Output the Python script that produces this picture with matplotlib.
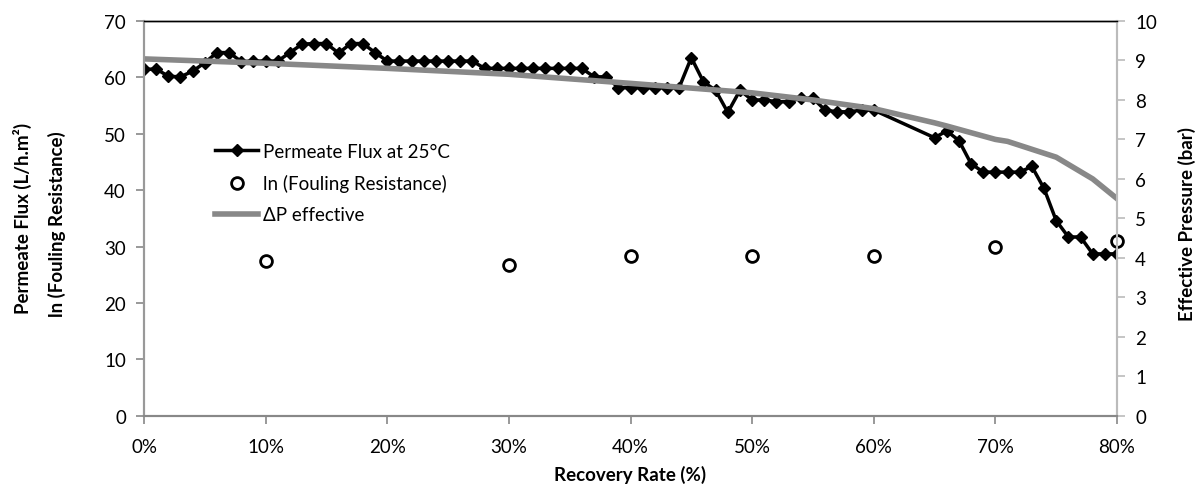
import numpy as np
from matplotlib import pyplot as plt
from matplotlib.ticker import FuncFormatter, MultipleLocator

plt.rcParams['font.family'] = ['Lato', 'DejaVu Sans']

# permeate flux, one point per 1% recovery (0-60 and 65-80)
flux_x = list(range(0, 61)) + list(range(65, 81))
flux = [61.4, 61.5, 60.2, 60.1, 61.1, 62.6, 64.4, 64.4, 62.8, 62.9,
        62.9, 62.9, 64.4, 65.9, 66.0, 66.0, 64.3, 66.0, 66.0, 64.4,
        62.9, 62.9, 62.9, 62.9, 62.9, 62.9, 62.9, 62.9, 61.6, 61.6,
        61.6, 61.6, 61.6, 61.6, 61.6, 61.6, 61.6, 60.1, 60.1, 58.2,
        58.2, 58.2, 58.2, 58.2, 58.2, 63.5, 59.2, 57.7, 53.8, 57.7,
        56.0, 56.0, 55.7, 55.7, 56.3, 56.3, 54.2, 53.9, 53.9, 54.2,
        54.2,
        49.3, 50.5, 48.8, 44.7, 43.2, 43.2, 43.2, 43.2, 44.2, 40.3,
        34.6, 31.7, 31.7, 28.7, 28.7, 28.7]

# ln(fouling resistance)
foul_x = [10, 30, 40, 50, 60, 70, 80]
foul = [27.5, 26.7, 28.3, 28.3, 28.4, 29.9, 31.0]

# effective pressure (bar)
dp_x = [0, 10, 20, 30, 40, 50, 55, 60, 65, 66, 70, 71, 75, 78, 80]
dp = [9.04, 8.93, 8.80, 8.65, 8.42, 8.18, 8.0, 7.78, 7.42, 7.34, 7.0, 6.95, 6.55, 6.0, 5.5]

W, H = 1201, 489
fig = plt.figure(figsize=(W / 100, H / 100), dpi=100)
ax = fig.add_axes([144 / W, 1 - 416.7 / H, (1117 - 144) / W, (416.7 - 22) / H])
ax2 = ax.twinx()

ln1, = ax.plot(flux_x, flux, color='black', lw=2.5, marker='D', ms=6.5,
               label='Permeate Flux at 25°C')
ln2, = ax.plot(foul_x, foul, ls='none', marker='o', ms=8.5, mfc='white', mec='black',
               mew=2, label='ln (Fouling Resistance)', clip_on=False, zorder=5)
ln3, = ax2.plot(dp_x, dp, color='#888888', lw=4, label='ΔP effective')

ax.set_xlim(0, 80)
ax.set_ylim(0, 70)
ax2.set_ylim(0, 10)
ax.xaxis.set_major_locator(MultipleLocator(10))
ax.xaxis.set_major_formatter(FuncFormatter(lambda v, p: f'{v:.0f}%'))
ax.yaxis.set_major_locator(MultipleLocator(10))
ax2.yaxis.set_major_locator(MultipleLocator(1))

for a in (ax, ax2):
    a.tick_params(labelsize=13.5, length=6, width=1.2, color='#888888', pad=7)
    a.spines['top'].set_color('black')
    a.spines['top'].set_linewidth(1.0)
    a.spines['left'].set_color('#999999')
    a.spines['bottom'].set_color('#888888')
    a.spines['right'].set_color('#bbbbbb')
    for side in ('left', 'bottom', 'right'):
        a.spines[side].set_linewidth(1.5)
ax.tick_params(axis='x', pad=10)
ax2.tick_params(color='#bbbbbb')

ax.set_xlabel('Recovery Rate (%)', fontsize=13.5, fontweight='bold', labelpad=7)
fig.text(1187 / W, 1 - 224 / H, 'Effective Pressure (bar)', rotation=90, fontsize=13.5,
         fontweight='bold', ha='center', va='center')
fig.text(22 / W, 1 - 218 / H, 'Permeate Flux (L/h.m²)', rotation=90, fontsize=13.5,
         fontweight='bold', ha='center', va='center')
fig.text(57 / W, 1 - 224 / H, 'ln (Fouling Resistance)', rotation=90, fontsize=13.5,
         fontweight='bold', ha='center', va='center')

fig.legend(handles=[ln1, ln2, ln3], loc='upper left', bbox_to_anchor=(215 / W, 1 - 144 / H),
           frameon=False, fontsize=13.5, handlelength=2.3, handletextpad=0.25,
           labelspacing=0.75, borderpad=0, borderaxespad=0)

fig.savefig('out.png', dpi=100)
